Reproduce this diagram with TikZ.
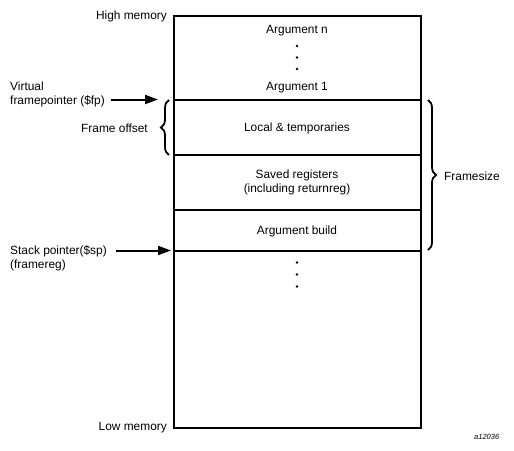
\documentclass[tikz,border=0pt]{standalone}
\usepackage{fontspec}
\setmainfont{Liberation Sans}
\usetikzlibrary{decorations.pathreplacing,arrows.meta}
\begin{document}
\begin{tikzpicture}[x=1pt,y=-1pt,
  lbl/.style={inner sep=0pt,font=\fontsize{11.9}{14}\selectfont},
  wall/.style={line width=2pt},
  ptr/.style={line width=2pt,-{Triangle[length=13pt,width=9pt]}},
  brc/.style={line width=1.8pt,decorate,decoration={brace,amplitude=8pt}},
  dot/.style={circle,fill,inner sep=0pt,minimum size=2.6pt}]
\useasboundingbox (0,0) rectangle (514,450);
% frame coordinates
\coordinate (tl) at (174,16);
\coordinate (br) at (421,427.5);
\coordinate (fpL) at (174,99.5);
\coordinate (fpR) at (421,99.5);
\coordinate (l2L) at (174,155);
\coordinate (l2R) at (421,155);
\coordinate (l3L) at (174,210);
\coordinate (l3R) at (421,210);
\coordinate (spL) at (174,250.5);
\coordinate (spR) at (421,250.5);
\draw[wall] (tl) rectangle (br);
\draw[wall] (fpL) -- (fpR);
\draw[wall] (l2L) -- (l2R);
\draw[wall] (l3L) -- (l3R);
\draw[wall] (spL) -- (spR);
% cell texts
\node[lbl] (argn) at (297,30.5) {Argument n};
\node[dot] (d1) at (297,46) {};
\node[dot] (d2) at (297,57.5) {};
\node[dot] (d3) at (297,69) {};
\node[lbl] (arg1) at (297,87.5) {Argument 1};
\node[lbl] (loc) at (297,128) {Local \& temporaries};
\node[lbl,align=center] (sav) at (297,182) {Saved registers\\(including returnreg)};
\node[lbl] (argb) at (297,231) {Argument build};
\node[dot] (d4) at (297,262.5) {};
\node[dot] (d5) at (297,274.5) {};
\node[dot] (d6) at (297,286.5) {};
% left labels
\node[lbl,anchor=east] (high) at (167,16.5) {High memory};
\node[lbl,anchor=east] (low) at (167,428) {Low memory};
\node[lbl,anchor=west,align=left] (vfp) at (10,94) {Virtual\\framepointer (\$fp)};
\node[lbl,anchor=west,align=left] (ssp) at (10,258.5) {Stack pointer(\$sp)\\(framereg)};
\coordinate (vfpS) at (111,99.5);
\coordinate (vfpE) at (158,99.5);
\coordinate (sspS) at (116,250.5);
\coordinate (sspE) at (171,250.5);
\draw[ptr] (vfpS) -- (vfpE);
\draw[ptr] (sspS) -- (sspE);
% braces
\coordinate (lbB) at (169,155);
\coordinate (lbT) at (169,100);
\draw[brc] (lbB) -- (lbT);
\node[lbl,anchor=east] (fo) at (148,128) {Frame offset};
\coordinate (rbT) at (428,100);
\coordinate (rbB) at (428,250);
\draw[brc] (rbT) -- (rbB);
\node[lbl,anchor=west] (fs) at (444,176) {Framesize};
\node[inner sep=0pt,font=\fontsize{7.5}{9}\selectfont\itshape,anchor=west] (id) at (474,437) {a12036};
\end{tikzpicture}
\end{document}
